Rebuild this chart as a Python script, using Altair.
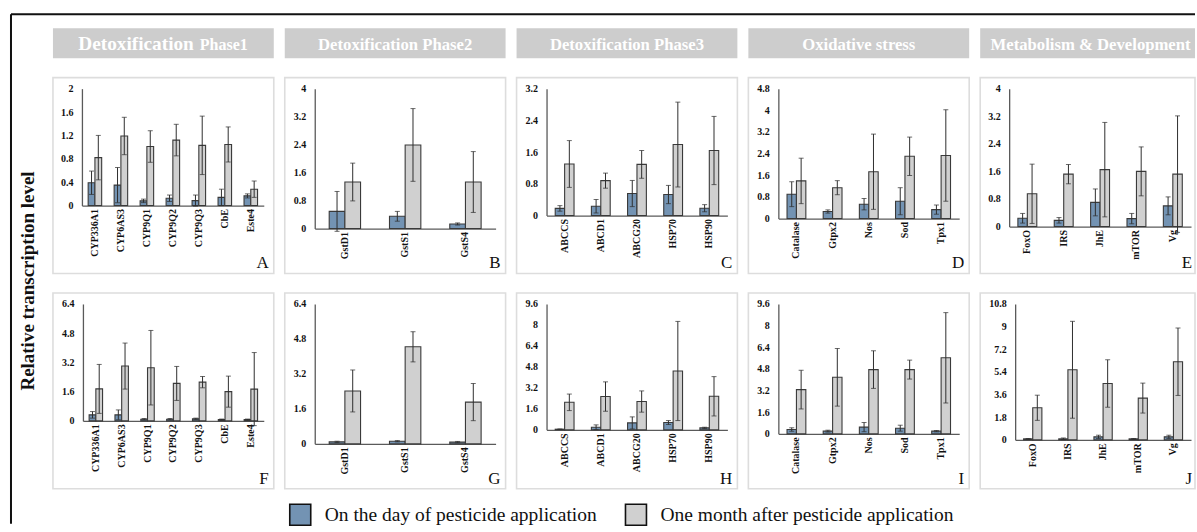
import altair as alt
import pandas as pd

SERIF = "Liberation Serif"
SERIES = ["On the day of pesticide application", "One month after pesticide application"]
COLORS = ["#7393B3", "#D0D0D0"]
HEADERS = ["Detoxification Phase2", "Detoxification Phase3", "Oxidative stress", "Metabolism & Development"]

# ---- data ----
genes_A = ["CYP336A1", "CYP6AS3", "CYP9Q1", "CYP9Q2", "CYP9Q3", "CbE", "Este4"]
day_A = [0.39, 0.35, 0.08, 0.125, 0.085, 0.14, 0.165]
day_A_err = [0.20, 0.30, 0.03, 0.055, 0.095, 0.14, 0.035]
mon_A = [0.82, 1.19, 1.01, 1.12, 1.03, 1.045, 0.28]
mon_A_err = [0.38, 0.32, 0.27, 0.27, 0.50, 0.30, 0.14]

genes_B = ["GstD1", "GstS1", "GstS4"]
day_B = [0.49, 0.35, 0.13]
day_B_err = [0.57, 0.14, 0.03]
mon_B = [1.33, 2.39, 1.33]
mon_B_err = [0.54, 1.04, 0.87]

genes_C = ["ABCCS", "ABCD1", "ABCG20", "HSP70", "HSP90"]
day_C = [0.18, 0.235, 0.555, 0.53, 0.185]
day_C_err = [0.07, 0.17, 0.33, 0.23, 0.09]
mon_C = [1.30, 0.88, 1.29, 1.79, 1.64]
mon_C_err = [0.59, 0.19, 0.35, 1.07, 0.86]

genes_D = ["Catalase", "Gtpx2", "Nos", "Sod", "Tpx1"]
day_D = [0.90, 0.26, 0.53, 0.64, 0.33]
day_D_err = [0.46, 0.06, 0.21, 0.50, 0.17]
mon_D = [1.39, 1.14, 1.73, 2.30, 2.33]
mon_D_err = [0.84, 0.26, 1.39, 0.71, 1.69]

genes_E = ["FoxO", "IRS", "JhE", "mTOR", "Vg"]
day_E = [0.24, 0.18, 0.70, 0.23, 0.60]
day_E_err = [0.14, 0.08, 0.39, 0.15, 0.26]
mon_E = [0.95, 1.52, 1.65, 1.60, 1.52]
mon_E_err = [0.86, 0.28, 1.37, 0.71, 1.69]

day_F = [0.33, 0.33, 0.09, 0.09, 0.11, 0.07, 0.07]
day_F_err = [0.18, 0.27, 0.04, 0.04, 0.04, 0.03, 0.03]
mon_F = [1.75, 3.00, 2.91, 2.05, 2.12, 1.60, 1.74]
mon_F_err = [1.34, 1.26, 2.04, 0.93, 0.31, 0.85, 2.00]

day_G = [0.09, 0.12, 0.08]
day_G_err = [0.03, 0.03, 0.03]
mon_G = [2.42, 4.44, 1.91]
mon_G_err = [0.96, 0.69, 0.85]

day_H = [0.05, 0.20, 0.53, 0.56, 0.15]
day_H_err = [0.02, 0.18, 0.46, 0.15, 0.05]
mon_H = [2.10, 2.54, 2.16, 4.49, 2.56]
mon_H_err = [0.63, 1.12, 0.81, 3.78, 1.50]

day_I = [0.32, 0.20, 0.50, 0.42, 0.20]
day_I_err = [0.13, 0.07, 0.34, 0.22, 0.05]
mon_I = [3.27, 4.18, 4.75, 4.75, 5.62]
mon_I_err = [1.43, 2.13, 1.39, 0.70, 3.34]

day_J = [0.08, 0.08, 0.24, 0.08, 0.24]
day_J_err = [0.03, 0.07, 0.13, 0.03, 0.13]
mon_J = [2.55, 5.57, 4.48, 3.32, 6.21]
mon_J_err = [1.00, 3.85, 1.88, 1.19, 2.68]

# ---- layout constants ----
PANEL_W = 221
LAST_W = 215
PANEL_H = 196
TOP_PX = 11
RIGHT_PX = 211
AXIS_COLOR = "#5a5a5a"
BAR_STROKE = "#3a3a3a"
ERR_COLOR = "#2e2e2e"
IND = dict(x="independent", y="independent", xOffset="independent")


def panel(letter, genes, day, day_err, mon, mon_err, ymax, step, zero_px, axis_px, width):
    rows = []
    for g, v, e in zip(genes, day, day_err):
        rows.append(dict(gene=g, series=SERIES[0], value=v, lo=v - e, hi=v + e))
    for g, v, e in zip(genes, mon, mon_err):
        rows.append(dict(gene=g, series=SERIES[1], value=v, lo=v - e, hi=v + e))
    df = pd.DataFrame(rows)
    n = int(round(ymax / step))
    ticks = [round(i * step, 2) for i in range(n + 1)]

    xaxis = alt.Axis(title=None, labelAngle=270, offset=-(PANEL_H - zero_px), domainColor=AXIS_COLOR,
                     domainWidth=1.3, ticks=False, tickSize=0, labelPadding=3, labelFont=SERIF,
                     labelFontWeight="bold", labelFontSize=10, labelColor="#111111", grid=False)
    yaxis = alt.Axis(title=None, values=ticks, format=".3~g", offset=-axis_px, domainColor=AXIS_COLOR,
                     domainWidth=1.3, ticks=False, tickSize=0, labelPadding=9, labelFont=SERIF,
                     labelFontWeight="bold", labelFontSize=10, labelColor="#111111", grid=False)
    xs = alt.Scale(domain=genes, range=[axis_px, min(RIGHT_PX, width - 4)], paddingInner=0.48, paddingOuter=0.24)
    ys = alt.Scale(domain=[0, ymax], range=[zero_px, TOP_PX], nice=False, zero=True)
    xo = alt.XOffset("series:N", sort=SERIES, scale=alt.Scale(domain=SERIES, paddingInner=0, paddingOuter=0))
    X = alt.X("gene:N", sort=genes, scale=xs, axis=xaxis)

    base = alt.Chart(df)
    bars = base.mark_bar(stroke=BAR_STROKE, strokeWidth=1.1).encode(
        x=X, xOffset=xo,
        y=alt.Y("value:Q", scale=ys, axis=yaxis),
        color=alt.Color("series:N", sort=SERIES, scale=alt.Scale(domain=SERIES, range=COLORS),
                        legend=alt.Legend(title=None, orient="none", legendX=288, legendY=502,
                                          direction="horizontal", symbolType="square", symbolSize=441,
                                          symbolStrokeColor="#111111", symbolStrokeWidth=1.6,
                                          symbolOpacity=1, labelFont=SERIF, labelFontSize=19.5,
                                          labelColor="#111111", labelOffset=13, columnPadding=24,
                                          labelLimit=600)),
    )
    rule = base.mark_rule(color=ERR_COLOR, strokeWidth=1).encode(
        x=X, xOffset=xo, y=alt.Y("lo:Q", scale=ys, axis=yaxis), y2="hi:Q")
    cap_lo = base.mark_tick(color=ERR_COLOR, size=5, thickness=1).encode(
        x=X, xOffset=xo, y=alt.Y("lo:Q", scale=ys, axis=yaxis))
    cap_hi = base.mark_tick(color=ERR_COLOR, size=5, thickness=1).encode(
        x=X, xOffset=xo, y=alt.Y("hi:Q", scale=ys, axis=yaxis))
    lab = alt.Chart(pd.DataFrame({"t": [letter]})).mark_text(
        font=SERIF, fontSize=17, align="right", baseline="alphabetic", color="#111111").encode(
        text="t:N", x=alt.value(min(216, width - 3)), y=alt.value(191))
    return alt.layer(bars, rule, cap_lo, cap_hi, lab).properties(
        width=width, height=PANEL_H,
        view=alt.ViewBackground(stroke="#dddddd", strokeWidth=1.6))


def header(text, width):
    hdf = pd.DataFrame({"t": [text]})
    rect = alt.Chart(hdf).mark_rect(color="#cdcdcd").encode(
        x=alt.value(0), x2=alt.value(width), y=alt.value(27), y2=alt.value(57))
    layers = [rect]
    if text == "Detoxification Phase1":
        layers.append(alt.Chart(pd.DataFrame({"t": ["Detoxification"]})).mark_text(
            font=SERIF, fontSize=19.3, fontWeight="bold", color="white", align="right",
            baseline="alphabetic").encode(text="t:N", x=alt.value(141), y=alt.value(49)))
        layers.append(alt.Chart(pd.DataFrame({"t": ["Phase1"]})).mark_text(
            font=SERIF, fontSize=16, fontWeight="bold", color="white", align="left",
            baseline="alphabetic").encode(text="t:N", x=alt.value(147), y=alt.value(49)))
    else:
        layers.append(alt.Chart(hdf).mark_text(
            font=SERIF, fontSize=16.7, fontWeight="bold", color="white", align="center",
            baseline="alphabetic").encode(text="t:N", x=alt.value(110.5), y=alt.value(49)))
    return alt.layer(*layers).properties(width=width, height=57,
                                         view=alt.ViewBackground(stroke="transparent"))


cells = [header("Detoxification Phase1", PANEL_W)]
cells += [header(h, PANEL_W if i < 3 else LAST_W) for i, h in enumerate(HEADERS)]
cells += [
    panel("A", genes_A, day_A, day_A_err, mon_A, mon_A_err, 2, 0.4, 128, 29, PANEL_W),
    panel("B", genes_B, day_B, day_B_err, mon_B, mon_B_err, 4, 0.8, 151, 30, PANEL_W),
    panel("C", genes_C, day_C, day_C_err, mon_C, mon_C_err, 3.2, 0.8, 138, 30, PANEL_W),
    panel("D", genes_D, day_D, day_D_err, mon_D, mon_D_err, 4.8, 0.8, 141, 30, PANEL_W),
    panel("E", genes_E, day_E, day_E_err, mon_E, mon_E_err, 4, 0.8, 149, 29, LAST_W),
    panel("F", genes_A, day_F, day_F_err, mon_F, mon_F_err, 6.4, 1.6, 128, 30, PANEL_W),
    panel("G", genes_B, day_G, day_G_err, mon_G, mon_G_err, 6.4, 1.6, 151, 30, PANEL_W),
    panel("H", genes_C, day_H, day_H_err, mon_H, mon_H_err, 9.6, 1.6, 137, 30, PANEL_W),
    panel("I", genes_D, day_I, day_I_err, mon_I, mon_I_err, 9.6, 1.6, 141, 30, PANEL_W),
    panel("J", genes_E, day_J, day_J_err, mon_J, mon_J_err, 10.8, 1.8, 147, 35, LAST_W),
]

grid = alt.concat(*cells, columns=5, spacing=alt.RowColnumber(row=19.5, column=11),
                  bounds="flush", align="each").resolve_scale(**IND)

ldf = pd.DataFrame({"t": ["Relative transcription level"]})
ytitle = alt.Chart(ldf).mark_text(font=SERIF, fontSize=19, fontWeight="bold", angle=270,
                                  align="center", baseline="middle", color="#111111").encode(
    text="t:N", x=alt.value(27), y=alt.value(280))
top_rule = alt.Chart(ldf).mark_rule(color="#111111", strokeWidth=2).encode(
    x=alt.value(10), x2=alt.value(1195), y=alt.value(13))
left_rule = alt.Chart(ldf).mark_rule(color="#111111", strokeWidth=2).encode(
    x=alt.value(10), y=alt.value(13), y2=alt.value(523))
left = alt.layer(ytitle, top_rule, left_rule).properties(
    width=52, height=480, view=alt.ViewBackground(stroke="transparent"))

chart = alt.hconcat(left, grid, spacing=0, bounds="flush").resolve_scale(**IND).properties(
    padding=0, background="white")

chart.save("out.html", embed_options={"renderer": "svg", "actions": False})
